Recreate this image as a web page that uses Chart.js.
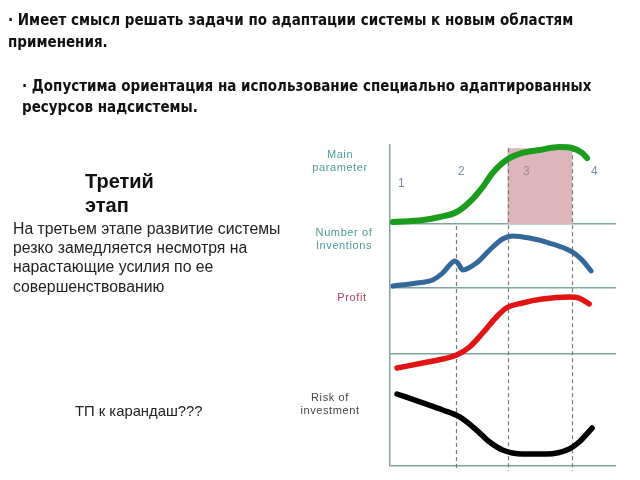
<!DOCTYPE html>
<html>
<head>
<meta charset="utf-8">
<script src="https://cdn.jsdelivr.net/npm/chart.js@4/dist/chart.umd.min.js"></script>
<style>
  body { margin: 0; background: #fff; }
  #wrap { position: relative; width: 640px; height: 480px; overflow: hidden; }
  #wrap canvas { position: absolute; left: 0; top: 0; }
  .txt { position: absolute; white-space: nowrap; }
  .bullet { font-family: "Liberation Sans Narrow", "DejaVu Sans Condensed", sans-serif; font-weight: bold; font-size: 15px; color: #111; line-height: 22px; }
  .stage { font-family: "Liberation Sans", Arial, sans-serif; font-size: 12px; color: #7d8ca0; }
  .lbl { font-family: "Liberation Sans", Arial, sans-serif; font-size: 11px; line-height: 13px; letter-spacing: 0.6px; text-align: center; }
</style>
</head>
<body>
<div id="wrap">
  <canvas id="curves" width="640" height="480"></canvas>

  <div class="txt bullet" style="left:8px; top:9px;">· Имеет смысл решать задачи по адаптации системы к новым областям<br>применения.</div>
  <div class="txt bullet" style="left:22px; top:76px; line-height:21px;">· Допустима ориентация на использование специально адаптированных<br>ресурсов надсистемы.</div>

  <div class="txt" style="left:85px; top:169px; font-family:'Liberation Sans',Arial,sans-serif; font-weight:bold; font-size:20px; line-height:24px; color:#111;">Третий<br>этап</div>
  <div class="txt" style="left:13px; top:219px; font-family:'Liberation Sans',Arial,sans-serif; font-size:15.8px; line-height:19.2px; color:#222;">На третьем этапе развитие системы<br>резко замедляется несмотря на<br>нарастающие усилия по ее<br>совершенствованию</div>
  <div class="txt" style="left:75px; top:403px; font-family:'Liberation Sans',Arial,sans-serif; font-size:14.8px; color:#222;">ТП к карандаш???</div>

  <div class="txt lbl" style="left:300px; top:148px; width:80px; color:#4f9c9c;">Main<br>parameter</div>
  <div class="txt lbl" style="left:304px; top:226px; width:80px; color:#4f9c9c;">Number of<br>Inventions</div>
  <div class="txt lbl" style="left:312px; top:291px; width:80px; color:#b0405a;">Profit</div>
  <div class="txt lbl" style="left:290px; top:391px; width:80px; color:#444;">Risk of<br>investment</div>

  <div class="txt stage" style="left:398px; top:176px;">1</div>
  <div class="txt stage" style="left:458px; top:164px;">2</div>
  <div class="txt stage" style="left:523px; top:164px; color:#9a8a98;">3</div>
  <div class="txt stage" style="left:591px; top:164px;">4</div>
</div>

<script>
// stage boundaries on the time axis (0..10)
var stageBounds = [2.9, 5.2, 8.06];

// main parameter (green)
var mainX = [0.13, 1.45, 2.2, 2.95, 3.52, 4.1, 4.54, 5.15, 5.86, 6.61, 7.49, 8.06, 8.5, 8.72];
var mainY = [2.5, 5.1, 8.9, 15.2, 27.8, 46.8, 64.6, 81, 89.9, 93.7, 97.5, 96.2, 89.9, 83.5];

// number of inventions (blue)
var invX = [0.13, 1.19, 1.89, 2.33, 2.64, 2.86, 3.0, 3.22, 3.83, 4.41, 4.98, 5.42, 6.17, 7.05, 8.06, 8.5, 8.9];
var invY = [3.1, 7.8, 12.5, 23.4, 35.9, 42.2, 39.1, 28.1, 39.1, 59.4, 76.6, 81.3, 78.1, 70.3, 56.3, 43.8, 26.6];

// profit (red)
var profitX = [0.31, 1.45, 2.33, 2.95, 3.52, 4.1, 4.71, 5.15, 5.86, 6.74, 7.93, 8.37, 8.81];
var profitY = [-21.2, -13.6, -7.6, -1.5, 10.6, 31.8, 56.1, 69.7, 77.3, 83.3, 86.4, 84.8, 75.8];

// risk of investment (black)
var riskX = [0.31, 1.45, 2.33, 3.08, 3.83, 4.41, 4.98, 5.86, 6.92, 7.93, 8.37, 8.94];
var riskY = [64.3, 56.3, 50, 43.8, 32.1, 21.4, 14.3, 10.7, 10.7, 15.2, 21.4, 33.9];

var axisColour = "#7fa3a0";

function points(xs, ys) {
  var out = [];
  for (var i = 0; i < xs.length; i++) {
    out.push({ x: xs[i], y: ys[i] });
  }
  return out;
}

function panelAxis(weight) {
  return {
    type: "linear",
    position: "left",
    stack: "panels",
    stackWeight: weight,
    min: 0,
    max: 100,
    ticks: { display: false, stepSize: 100 },
    grid: {
      drawTicks: false,
      lineWidth: 1.5,
      color: ctx => (ctx.tick && ctx.tick.value === 0) ? axisColour : "transparent"
    },
    border: { display: true, color: axisColour, width: 1.5 },
    afterFit: scale => { scale.width = 0; }
  };
}

// pink stage-3 band and dashed stage dividers
var stagePlugin = {
  id: "stages",
  beforeDatasetsDraw(chart) {
    let ctx = chart.ctx;
    let x = chart.scales.x;
    let top = chart.scales.yMain;
    let x1 = x.getPixelForValue(stageBounds[1]);
    let x2 = x.getPixelForValue(stageBounds[2]);
    let yTop = top.getPixelForValue(96);
    let yBot = top.getPixelForValue(0);
    ctx.save();
    ctx.fillStyle = "#dcb6ba";
    ctx.fillRect(x1, yTop, x2 - x1, yBot - yTop);

    ctx.strokeStyle = "#7a7a7a";
    ctx.lineWidth = 1.2;
    ctx.setLineDash([4, 3]);
    let bottom = chart.chartArea.bottom + 5;
    stageBounds.forEach((b, i) => {
      let px = Math.round(x.getPixelForValue(b)) + 0.5;
      let start = i === 0 ? yBot + 2 : yTop;
      ctx.beginPath();
      ctx.moveTo(px, start);
      ctx.lineTo(px, bottom);
      ctx.stroke();
    });
    ctx.restore();
  }
};

function buildChart() {
  new Chart("curves", {
    type: "line",
    data: {
      datasets: [
        { data: points(mainX, mainY), yAxisID: "yMain", borderColor: "#1c9c1c", borderWidth: 6, clip: false },
        { data: points(invX, invY), yAxisID: "yInv", borderColor: "#34689a", borderWidth: 5, clip: false },
        { data: points(profitX, profitY), yAxisID: "yProfit", borderColor: "#e01414", borderWidth: 5.5, clip: false },
        { data: points(riskX, riskY), yAxisID: "yRisk", borderColor: "#000000", borderWidth: 5.5, clip: false }
      ]
    },
    options: {
      responsive: false,
      animation: false,
      events: [],
      layout: { padding: { left: 390, top: 145, right: 24, bottom: 14 } },
      elements: {
        point: { radius: 0 },
        line: { cubicInterpolationMode: "monotone", borderCapStyle: "round", borderJoinStyle: "round" }
      },
      plugins: { legend: { display: false }, tooltip: { enabled: false } },
      scales: {
        x: {
          type: "linear",
          min: 0,
          max: 10,
          display: false
        },
        // stacked panels are placed bottom-up, so the lowest panel comes first
        yRisk: panelAxis(112),
        yProfit: panelAxis(66),
        yInv: panelAxis(64),
        yMain: panelAxis(79)
      }
    },
    plugins: [stagePlugin]
  });
}

buildChart();
</script>
</body>
</html>
